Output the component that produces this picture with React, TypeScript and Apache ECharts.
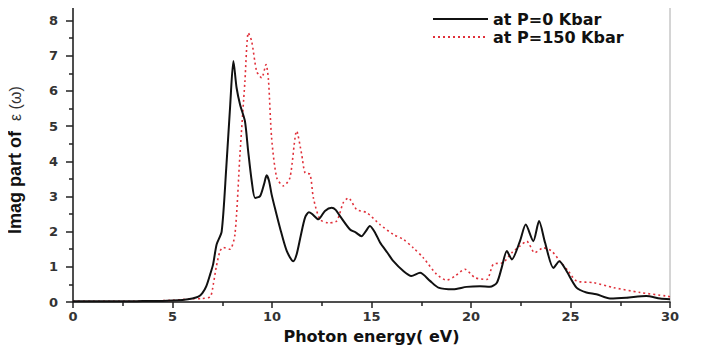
import React, { useEffect, useRef } from "react";
import * as echarts from "echarts";

const xP0 = [0, 1, 2, 3, 4, 4.5, 5, 5.5, 6, 6.3, 6.5, 6.7, 6.9, 7.04, 7.22, 7.47, 7.7, 7.9, 8.06, 8.22, 8.4, 8.64, 8.8, 8.98, 9.15, 9.4, 9.6, 9.73, 9.85, 9.98, 10.2, 10.4, 10.74, 11.07, 11.24, 11.45, 11.66, 11.85, 12.0, 12.33, 12.66, 13.0, 13.2, 13.42, 13.92, 14.2, 14.5, 14.7, 14.92, 15.2, 15.43, 15.8, 16.1, 16.6, 17.0, 17.44, 17.94, 18.36, 19.1, 19.78, 20.45, 20.95, 21.3, 21.54, 21.8, 22.05, 22.46, 22.75, 23.13, 23.42, 23.72, 24.14, 24.44, 24.8, 25.3, 25.8, 26.3, 26.98, 27.8, 28.8, 29.5, 30];
const yP0 = [0.02, 0.02, 0.02, 0.02, 0.03, 0.03, 0.04, 0.06, 0.1, 0.15, 0.25, 0.45, 0.8, 1.07, 1.64, 2.0, 3.8, 5.6, 6.85, 6.09, 5.6, 5.14, 4.3, 3.44, 2.96, 3.01, 3.35, 3.6, 3.45, 3.06, 2.55, 2.11, 1.45, 1.16, 1.36, 1.9, 2.4, 2.55, 2.51, 2.35, 2.59, 2.68, 2.62, 2.44, 2.06, 1.98, 1.87, 2.0, 2.16, 1.95, 1.69, 1.4, 1.16, 0.88, 0.74, 0.83, 0.6, 0.41, 0.36, 0.43, 0.45, 0.43, 0.55, 0.97, 1.45, 1.21, 1.73, 2.2, 1.73, 2.3, 1.69, 0.97, 1.16, 0.88, 0.41, 0.27, 0.22, 0.1, 0.12, 0.17, 0.1, 0.08];

const xP150 = [0, 1, 2, 3, 4, 5, 5.5, 6, 6.5, 6.9, 7.05, 7.2, 7.39, 7.55, 7.89, 8.14, 8.39, 8.64, 8.81, 8.98, 9.23, 9.48, 9.7, 9.82, 9.98, 10.24, 10.57, 10.9, 11.24, 11.49, 11.66, 11.91, 12.08, 12.41, 12.83, 13.25, 13.58, 13.84, 14.25, 14.76, 15.43, 16.1, 16.6, 17.1, 17.6, 18.27, 18.78, 19.2, 19.7, 20.2, 20.79, 21.12, 21.62, 22.05, 22.46, 22.8, 23.2, 23.63, 24.05, 24.47, 24.89, 25.3, 26.15, 27.15, 28.5, 29.8, 30];
const yP150 = [0.02, 0.02, 0.02, 0.02, 0.03, 0.05, 0.07, 0.09, 0.1, 0.15, 0.5, 1.0, 1.45, 1.55, 1.5, 1.93, 4.2, 6.28, 7.65, 7.41, 6.56, 6.37, 6.75, 6.33, 4.67, 3.53, 3.3, 3.53, 4.86, 4.2, 3.67, 3.63, 2.96, 2.35, 2.25, 2.3, 2.82, 2.96, 2.63, 2.54, 2.2, 1.92, 1.78, 1.54, 1.26, 0.79, 0.62, 0.74, 0.93, 0.69, 0.64, 1.07, 1.12, 1.4, 1.59, 1.73, 1.4, 1.54, 1.45, 1.16, 0.88, 0.6, 0.55, 0.41, 0.27, 0.17, 0.15];

const seriesNames = ["at P=0 Kbar", "at P=150 Kbar"];
const xTitle = "Photon energy( eV)";
const yTitleBold = "Imag part of  ";
const yTitleSym = "ε (ω)";

export default function App() {
  const ref = useRef<HTMLDivElement>(null);
  useEffect(() => {
    if (!ref.current) return;
    const chart = echarts.init(ref.current, null, { renderer: "svg" });
    const pairs = (xs: number[], ys: number[]) => xs.map((x, i) => [x, ys[i]]);
    const labelFont = { fontFamily: "DejaVu Sans", fontWeight: "bold" as const, fontSize: 13, color: "#333" };
    chart.setOption({
      animation: false,
      backgroundColor: "#fff",
      grid: { left: 73, right: 36, top: 3, bottom: 58, show: true, borderColor: "#aaa", borderWidth: 1 },
      legend: {
        left: 432,
        top: 10,
        padding: 0,
        orient: "vertical",
        itemWidth: 55,
        itemHeight: 2,
        itemGap: 0,
        itemStyle: { opacity: 0 },
        textStyle: { fontFamily: "DejaVu Sans", fontWeight: "bold", fontSize: 16, lineHeight: 18, color: "#111" },
        data: seriesNames,
      },
      xAxis: {
        type: "value",
        min: 0,
        max: 30,
        interval: 5,
        axisLine: { show: true, onZero: false, lineStyle: { color: "#222", width: 1.5 } },
        axisTick: { show: true, inside: false, length: 6, lineStyle: { color: "#222", width: 1.5 } },
        minorTick: { show: true, splitNumber: 2, length: 4, lineStyle: { color: "#222", width: 1.5 } },
        splitLine: { show: false },
        axisLabel: { ...labelFont, margin: 8 },
        name: xTitle,
        nameLocation: "middle",
        nameGap: 26,
        nameTextStyle: { fontFamily: "DejaVu Sans", fontWeight: "bold", fontSize: 16, color: "#111" },
      },
      yAxis: {
        type: "value",
        min: 0,
        max: 8.5,
        interval: 1,
        axisLine: { show: true, onZero: false, lineStyle: { color: "#222", width: 1.5 } },
        axisTick: { show: true, inside: false, length: 7, lineStyle: { color: "#222", width: 1.5 } },
        minorTick: { show: true, splitNumber: 2, length: 4, lineStyle: { color: "#222", width: 1.5 } },
        splitLine: { show: false },
        axisLabel: { ...labelFont, margin: 15, formatter: (v: number) => (v > 8 ? "" : String(v)) },
      },
      graphic: [
        {
          type: "text",
          x: 15,
          y: 234,
          rotation: Math.PI / 2,
          style: {
            text: `{b|${yTitleBold}}{n|${yTitleSym}}`,
            rich: {
              b: { fontFamily: "Liberation Sans", fontWeight: "bold", fontSize: 18, fill: "#111" },
              n: { fontFamily: "Liberation Sans", fontWeight: "normal", fontSize: 16, fill: "#333" },
            },
            textVerticalAlign: "middle",
          },
        },
      ],
      series: [
        {
          name: seriesNames[0],
          type: "line",
          data: pairs(xP0, yP0),
          symbol: "none",
          smooth: 0.25,
          lineStyle: { color: "#111", width: 2 },
          itemStyle: { color: "#111" },
          z: 3,
        },
        {
          name: seriesNames[1],
          type: "line",
          data: pairs(xP150, yP150),
          symbol: "none",
          smooth: 0.25,
          lineStyle: { color: "#e0303a", width: 1.6, type: [2, 3] },
          itemStyle: { color: "#e0303a" },
          z: 2,
        },
      ],
    });
    return () => chart.dispose();
  }, []);
  return <div ref={ref} style={{ width: 706, height: 360, margin: -8 }} />;
}
